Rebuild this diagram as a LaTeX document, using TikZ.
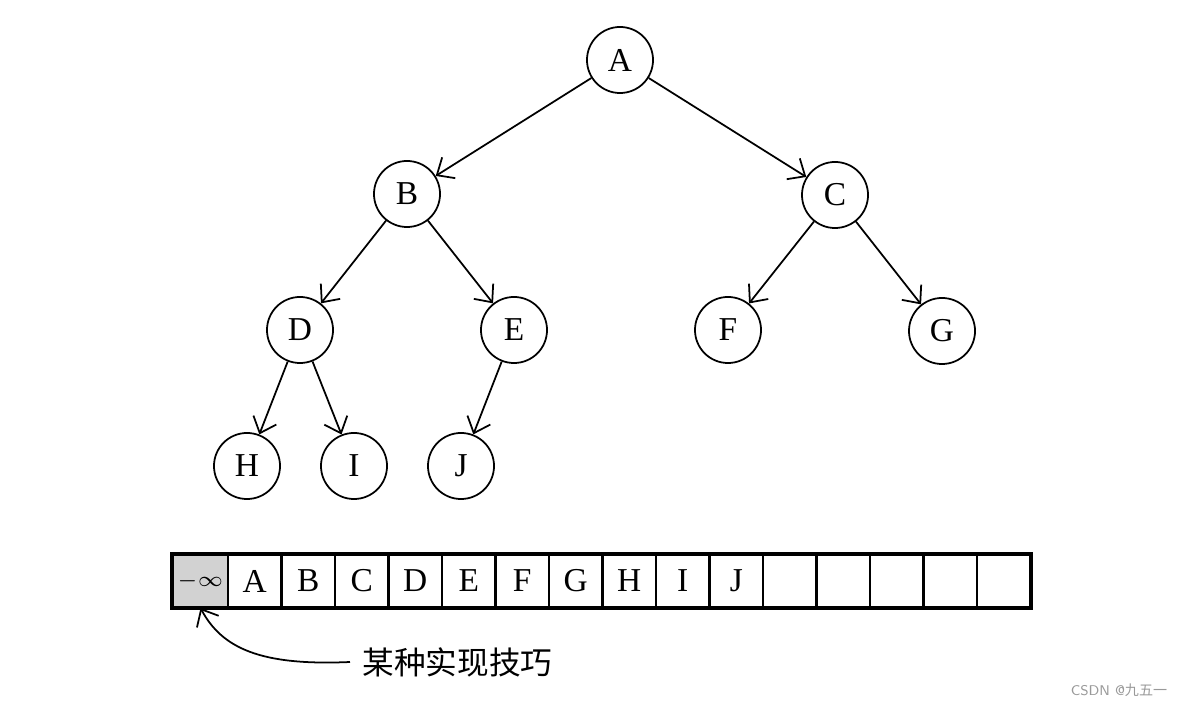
\documentclass[tikz,border=0pt]{standalone}
\usepackage{fontspec}
\setmainfont{Liberation Serif}
\newfontfamily\cjk{Noto Sans CJK SC}
\usepackage{tikz}
\usetikzlibrary{arrows.meta, positioning, calc}

\begin{document}
\begin{tikzpicture}[x=0.01cm, y=-0.01cm,
      vertex/.style={circle, draw, line width=0.5pt, minimum size=0.66cm, inner sep=0pt, font=\fontsize{9.5}{11}\selectfont},
      cell/.style={rectangle, draw, line width=0.6pt, minimum width=0.535cm, minimum height=0.52cm, inner sep=0pt, font=\fontsize{9.5}{11}\selectfont},
      edge/.style={-{Straight Barb[length=4pt,width=7pt]}, line width=0.5pt}]

      \useasboundingbox (0,0) rectangle (1185,704);

      % Tree
      \node[vertex] (A) at (620,60) {A};
      \node[vertex] (B) at (407,194) {B};
      \node[vertex] (C) at (835,195) {C};
      \node[vertex] (D) at (300,330) {D};
      \node[vertex] (E) at (514,330) {E};
      \node[vertex] (F) at (728,330) {F};
      \node[vertex] (G) at (942,331) {G};
      \node[vertex] (H) at (247,466) {H};
      \node[vertex] (I) at (354,466) {I};
      \node[vertex] (J) at (461,466) {J};

      % Arrows
      \draw[edge] (A) -- (B);
      \draw[edge] (A) -- (C);
      \draw[edge] (B) -- (D);
      \draw[edge] (B) -- (E);
      \draw[edge] (C) -- (F);
      \draw[edge] (C) -- (G);
      \draw[edge] (D) -- (H);
      \draw[edge] (D) -- (I);
      \draw[edge] (E) -- (J);

      % Array
      \node[cell, fill=gray!35, minimum width=0.55cm, font=\fontsize{6.5}{8}\selectfont] (c0) at (200.5,581) {$-\infty$};
      \foreach \l [count=\i] in {A,B,C,D,E,F,G,H,I,J,{},{},{},{},{}} {
        \node[cell] (c\i) at ({228+53.5*(\i-0.5)},581) {\l};
      }
      \draw[line width=1pt] (c0.north west) rectangle (c15.south east);

      % Annotation
      \node[font=\cjk\fontsize{9}{11}\selectfont, anchor=west] (note) at (350,662) {某种实现技巧};
      \draw[edge] (note.west) .. controls (260,666) and (222,648) .. (c0.south);

      \node[font=\sffamily\fontsize{4}{5}\selectfont, text=gray!80] (mark) at (1119,690) {CSDN @{\cjk 九五一}};
    \end{tikzpicture}
\end{document}
